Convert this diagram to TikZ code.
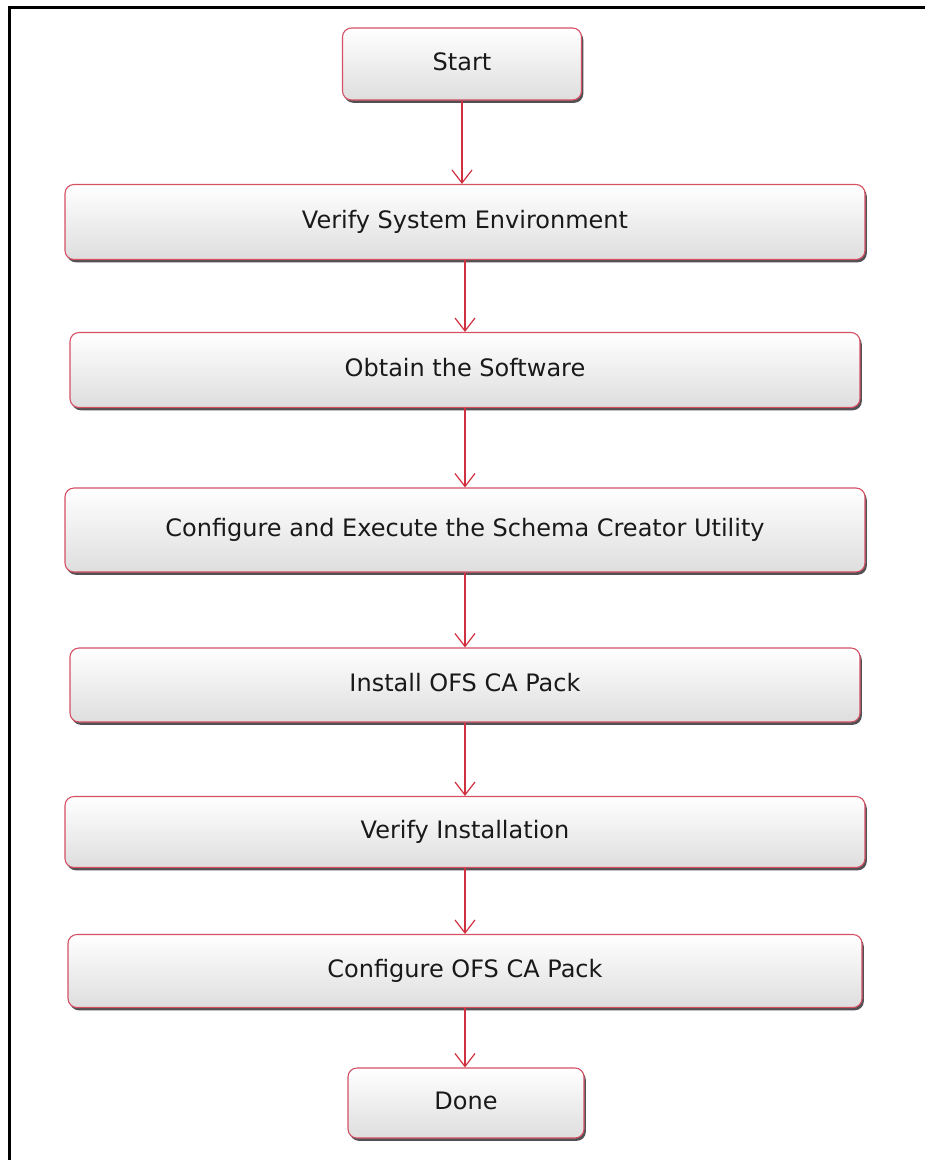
\documentclass[tikz,border=0pt]{standalone}
\usepackage{fontspec}
\setmainfont{DejaVu Sans}
\usepackage{tikz}
\usetikzlibrary{
	positioning		% Allows below=of style positioning
	, arrows.meta		% Allows barbed arrow tips
	, shadows		% Allows drop shadows under the steps
}

\definecolor{steprim}{RGB}{214,80,100}
\definecolor{steparrow}{RGB}{208,48,64}
\definecolor{stepshadow}{RGB}{80,80,85}

\begin{document}
\begin{tikzpicture}[
		x=1pt, y=-1pt
		, stepbox/.style={draw=steprim, line width=1.1pt, rounded corners=9pt
			, top color=white, bottom color=gray!26, text=black!90
			, font=\fontsize{24}{28}\selectfont, inner sep=0pt, text depth=0.5em
			, drop shadow={shadow xshift=1.8pt, shadow yshift=-2.8pt, fill=stepshadow, opacity=1}}
		, flowarrow/.style={draw=steparrow, line width=1.2pt
			, -{Straight Barb[length=13pt, width=20pt, line width=1.2pt]}}]

		%%% Page and frame
		\useasboundingbox (0,0) rectangle (925,1160);
		\fill[white] (0,0) rectangle (925,1160);
		\coordinate (framecorner) at (9,7);
		\draw[line width=3pt] (9,1160) -- (framecorner) -- (925,7);

		%%% Steps
		\node[stepbox, minimum width=239pt, minimum height=72pt] (start) at (462,64) {Start};
		\node[stepbox, minimum width=800pt, minimum height=75pt] (verifyenv) at (465,222) {Verify System Environment};
		\node[stepbox, minimum width=790pt, minimum height=75pt] (obtain) at (465,370) {Obtain the Software};
		\node[stepbox, minimum width=800pt, minimum height=84pt] (schema) at (465,530) {Configure and Execute the Schema Creator Utility};
		\node[stepbox, minimum width=790pt, minimum height=74pt] (install) at (465,685) {Install OFS CA Pack};
		\node[stepbox, minimum width=800pt, minimum height=71pt] (verifyinst) at (465,832) {Verify Installation};
		\node[stepbox, minimum width=794pt, minimum height=73pt] (configure) at (465,971) {Configure OFS CA Pack};
		\node[stepbox, minimum width=236pt, minimum height=70pt] (done) at (466,1103) {Done};

		%%% Flow
		\foreach \from/\to in {start/verifyenv, verifyenv/obtain, obtain/schema, schema/install, install/verifyinst, verifyinst/configure, configure/done} {
			\draw[flowarrow] (\from.south) -- (\from.south |- \to.north);
		};
	\end{tikzpicture}
\end{document}
